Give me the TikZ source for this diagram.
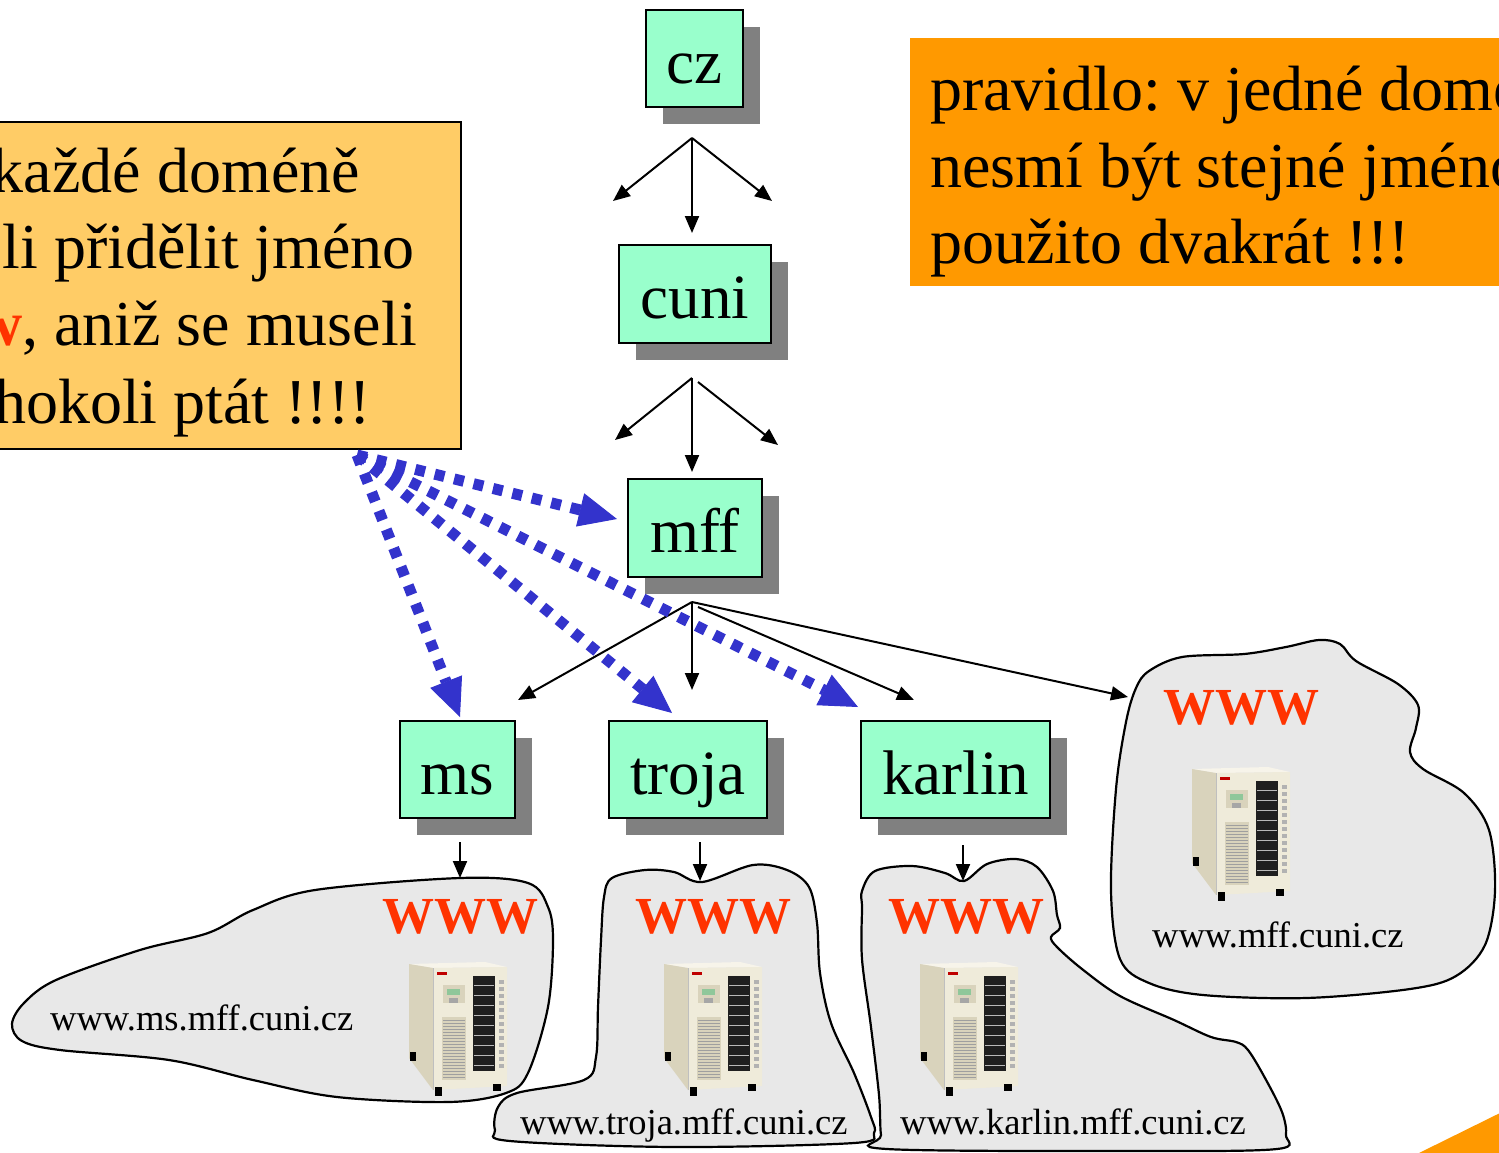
\documentclass[tikz,border=0pt]{standalone}
\usepackage{fontspec}
\setmainfont{Liberation Serif}
\usetikzlibrary{arrows.meta,shadows,calc}
\definecolor{nodegreen}{HTML}{99FFCC}
\definecolor{shadowgray}{HTML}{808080}
\definecolor{lightorange}{HTML}{FFCC66}
\definecolor{deeporange}{HTML}{FF9900}
\definecolor{wwwred}{HTML}{FF3300}
\definecolor{cloudgray}{HTML}{E8E8E8}
\definecolor{dotblue}{HTML}{3333CC}
\definecolor{srvfront}{HTML}{EFEBDA}
\definecolor{srvside}{HTML}{D9D3BC}
\definecolor{srvtop}{HTML}{F7F4EA}
\definecolor{lcdgreen}{HTML}{8FC79A}
\frenchspacing
\tikzset{
  dom/.style={draw=black, line width=2pt, fill=nodegreen, inner sep=0pt,
    font=\fontsize{63}{70}\selectfont, text height=59pt, text depth=10pt,
    drop shadow={shadow xshift=17pt, shadow yshift=-17pt, opacity=1, fill=shadowgray}},
  arr/.style={line width=2pt, -{Triangle[length=17pt,width=14pt]}},
  bluearr/.style={dotblue, line width=11pt, dash pattern=on 10pt off 10pt,
    -{Triangle[length=38pt,width=34pt,line width=1pt]}},
  cloud/.style={draw=black, line width=2.2pt, fill=cloudgray},
  bigtxt/.style={inner sep=0pt, font=\fontsize{64}{77}\selectfont},
  wwwtxt/.style={inner sep=0pt, text=wwwred, font=\bfseries\fontsize{52}{60}\selectfont},
  urltxt/.style={inner sep=0pt, font=\fontsize{36.5}{44}\selectfont},
  server/.pic={
    \fill[srvtop] (2,1) -- (78,-1) -- (100,4) -- (26,5) -- cycle;
    \fill[srvside] (2,1) -- (26,5) -- (26,127) -- (2,95) -- cycle;
    \fill[srvfront] (26,5) -- (100,4) -- (100,123) -- (26,127) -- cycle;
    \draw[black!25, line width=0.6pt] (26,5) -- (26,127);
    \fill[black!88] (66,13) rectangle (88,108);
    \foreach \yy in {22,32,42,52,62,72,82,92,102}
      \draw[gray!55, line width=0.7pt] (67,\yy) -- (87,\yy);
    \foreach \yy in {17,24,...,103}
      \fill[gray!60] (92,\yy) rectangle (97,\yy+3.5);
    \fill[srvside] (36,22) rectangle (58,40);
    \fill[lcdgreen] (40,26) rectangle (53,32);
    \fill[gray!70] (42,35) rectangle (51,40);
    \fill[srvside] (35,54) rectangle (59,117);
    \foreach \yy in {57,60,...,115}
      \draw[gray!75, line width=0.6pt] (36,\yy) -- (58,\yy);
    \fill[red!75!black] (30,9) rectangle (40,12);
    \fill[black] (3,89) rectangle (9,98);
    \fill[black] (28,124) rectangle (35,133);
    \fill[black] (86,121) rectangle (94,128);
  }
}
\begin{document}
\begin{tikzpicture}[x=1pt, y=-1pt]
\useasboundingbox (0,0) rectangle (1499,1152);
\clip (0,0) rectangle (1499,1152);
\fill[white] (0,0) rectangle (1499,1152);

% ---- clouds ----
\draw[cloud] plot[smooth cycle, tension=0.55] coordinates {
  (24,1003) (56,980) (140,950) (208,933) (253,910) (315,890) (460,878)
  (528,883) (548,907) (553,940) (548,1007) (528,1073) (506,1093) (449,1102)
  (337,1097) (253,1080) (169,1060) (60,1050) (22,1041) (12,1024)};
\draw[cloud] plot[smooth cycle, tension=0.55] coordinates {
  (604,897) (612,878) (645,870) (674,872) (702,882) (753,865) (787,870)
  (809,887) (817,923) (820,973) (831,1023) (854,1073) (871,1117) (874,1133)
  (854,1143) (674,1147) (510,1141) (495,1130) (498,1107) (517,1093)
  (584,1080) (596,1057) (598,1007) (601,940)};
\draw[cloud] plot[smooth cycle, tension=0.55] coordinates {
  (862,891) (875,871) (912,866) (945,873) (964,881) (987,864) (1016,859)
  (1037,867) (1053,891) (1057,915) (1060,928) (1051,937) (1057,947)
  (1082,969) (1120,996) (1174,1020) (1211,1037) (1236,1042) (1248,1050)
  (1265,1078) (1282,1112) (1286,1135) (1277,1149) (1140,1151) (887,1149)
  (881,1135) (879,1095) (871,1027) (862,959) (862,908)};
\draw[cloud] plot[smooth cycle, tension=0.55] coordinates {
  (1136,688) (1149,671) (1182,657) (1244,654) (1286,647) (1319,640)
  (1340,644) (1356,661) (1398,684) (1418,705) (1416,728) (1410,752)
  (1423,769) (1464,793) (1489,830) (1495,891) (1485,945) (1456,976)
  (1410,989) (1306,998) (1203,995) (1149,983) (1120,959) (1111,891)
  (1116,789) (1126,722)};

% ---- servers ----
\pic at (407,963) {server};
\pic at (662,963) {server};
\pic at (918,963) {server};
\pic at (1190,768) {server};

% ---- WWW labels and URLs ----
\node[wwwtxt, anchor=base] (w1) at (460,933) {WWW};
\node[wwwtxt, anchor=base] (w2) at (713,933) {WWW};
\node[wwwtxt, anchor=base] (w3) at (966,933) {WWW};
\node[wwwtxt, anchor=base] (w4) at (1241,724) {WWW};
\node[urltxt, anchor=base west] (u1) at (50,1030) {www.ms.mff.cuni.cz};
\node[urltxt, anchor=base west] (u2) at (520,1134) {www.troja.mff.cuni.cz};
\node[urltxt, anchor=base west] (u3) at (900,1134) {www.karlin.mff.cuni.cz};
\node[urltxt, anchor=base west] (u4) at (1152,947) {www.mff.cuni.cz};

% ---- boxes with text ----
\draw[black, line width=2pt, fill=lightorange] (-10,122) rectangle (461,449);
\node[bigtxt, anchor=base east] (l1) at (360,192) {každé doméně};
\node[bigtxt, anchor=base east] (l2) at (415,268) {li přidělit jméno};
\node[bigtxt, anchor=base east] (l3) at (417,345) {{\color{wwwred}\bfseries w}, aniž se museli};
\node[bigtxt, anchor=base east] (l4) at (371,423) {hokoli ptát !!!!};

\fill[deeporange] (910,38) rectangle (1520,286);
\node[bigtxt, anchor=base west] (r1) at (930,110) {pravidlo: v jedné doméně};
\node[bigtxt, anchor=base west] (r2) at (930,187) {nesmí být stejné jméno};
\node[bigtxt, anchor=base west] (r3) at (930,263) {použito dvakrát !!!};

\fill[deeporange] (1419,1153) -- (1500,1113) -- (1500,1153) -- cycle;

% ---- domain nodes ----
\node[dom, minimum width=97pt, minimum height=97pt] (cz) at (694.5,58.5) {cz};
\node[dom, minimum width=152pt, minimum height=98pt] (cuni) at (695,294) {cuni};
\node[dom, minimum width=134pt, minimum height=98pt] (mff) at (695,528) {mff};
\node[dom, minimum width=115pt, minimum height=97pt] (ms) at (457.5,769.5) {ms};
\node[dom, minimum width=158pt, minimum height=97pt] (troja) at (688,769.5) {troja};
\node[dom, minimum width=189pt, minimum height=97pt] (karlin) at (955.5,769.5) {karlin};

% ---- black arrows ----
\coordinate (czf) at (692,138);
\coordinate (czl) at (613,201);
\coordinate (czd) at (692,233);
\coordinate (czr) at (772,201);
\draw[arr] (czf) -- (czl);
\draw[arr] (czf) -- (czd);
\draw[arr] (czf) -- (czr);

\coordinate (cunif) at (692,378);
\coordinate (cunir0) at (698,382);
\coordinate (cunil) at (615,440);
\coordinate (cunid) at (692,472);
\coordinate (cunir) at (778,445);
\draw[arr] (cunif) -- (cunil);
\draw[arr] (cunif) -- (cunid);
\draw[arr] (cunir0) -- (cunir);

\coordinate (mfff) at (692,602);
\coordinate (mffk0) at (698,607);
\coordinate (mffms) at (518,700);
\coordinate (mffd) at (692,690);
\coordinate (mffk) at (914,700);
\coordinate (mffc) at (1128,697);
\draw[arr] (mfff) -- (mffms);
\draw[arr] (mfff) -- (mffd);
\draw[arr] (mffk0) -- (mffk);
\draw[arr] (mfff) -- (mffc);

\coordinate (msa) at (460,842);
\coordinate (msb) at (460,878);
\coordinate (tra) at (700,842);
\coordinate (trb) at (700,881);
\coordinate (kaa) at (963,845);
\coordinate (kab) at (963,881);
\draw[arr] (msa) -- (msb);
\draw[arr] (tra) -- (trb);
\draw[arr] (kaa) -- (kab);

% ---- blue dotted arrows ----
\coordinate (bsrc) at (357,455);
\coordinate (bms) at (460,717);
\coordinate (btr) at (672,713);
\coordinate (bka) at (858,707);
\coordinate (bmf) at (617,519);
\draw[bluearr] (bsrc) -- (bms);
\draw[bluearr] (bsrc) -- (btr);
\draw[bluearr] (bsrc) -- (bka);
\draw[bluearr] (bsrc) -- (bmf);
\end{tikzpicture}
\end{document}
